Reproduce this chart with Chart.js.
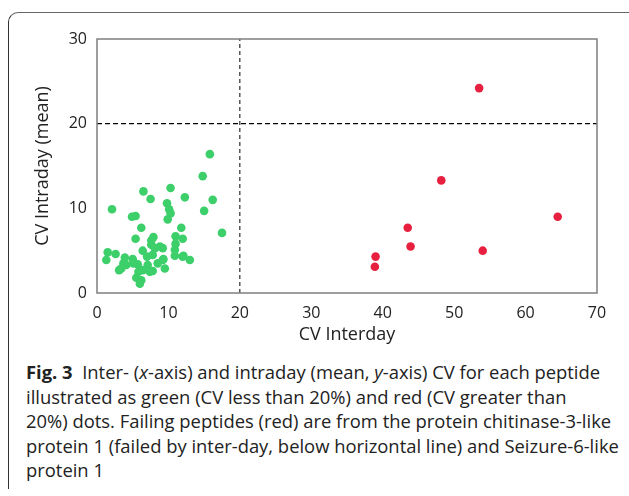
<!DOCTYPE html>
<html>
<head>
<meta charset="utf-8">
<script src="https://cdn.jsdelivr.net/npm/chart.js@4"></script>
<style>
  html, body { margin: 0; padding: 0; background: #fff; }
  body { width: 629px; height: 496px; position: relative; overflow: hidden; }
  #frame {
    position: absolute; left: 8px; top: 12px; width: 640px; height: 476px;
    border-left: 1.5px solid #333; border-top: 1.5px solid #666;
    border-top-left-radius: 10px;
  }
  #wrap { position: absolute; left: 0; top: 0; width: 629px; height: 350px; }
  #caption {
    position: absolute; left: 26px; top: 360px;
    font-family: "Open Sans", "Noto Sans", sans-serif; font-size: 18.4px;
    line-height: 24.6px; color: #222; white-space: nowrap;
  }
  #caption b { font-weight: 700; }
</style>
</head>
<body>
<div id="frame"></div>
<div id="wrap"><canvas id="myChart" width="629" height="350"></canvas></div>
<div id="caption">
<b>Fig. 3</b>&nbsp; Inter- (<i>x</i>-axis) and intraday (mean, <i>y</i>-axis) CV for each peptide<br>
illustrated as green (CV less than 20%) and red (CV greater than<br>
20%) dots. Failing peptides (red) are from the protein chitinase-3-like<br>
protein 1 (failed by inter-day, below horizontal line) and Seizure-6-like<br>
protein 1
</div>
<script>
// passing peptides (green)
const greenX = [15.8, 14.8, 16.2, 15.0, 17.5, 10.3, 6.5, 7.5, 12.3, 9.8, 10.1, 10.3, 9.9, 2.1, 4.9, 5.4, 6.2, 11.8, 5.4, 7.9,
    7.6, 11.0, 12.0, 11.0, 8.8, 7.6, 9.2, 8.1, 6.4, 10.9, 1.5, 2.6, 1.3, 3.9, 5.0, 7.0, 7.8, 9.2, 10.9, 12.0,
    13.0, 4.1, 5.7, 7.1, 8.5, 3.4, 3.1, 6.4, 7.8, 9.5, 7.4, 5.8, 5.1, 5.5, 6.2, 6.0, 3.7, 9.3, 12.1];
const greenY = [16.4, 13.8, 11.0, 9.7, 7.1, 12.4, 12.0, 11.1, 11.3, 10.6, 9.9, 9.4, 8.7, 9.9, 9.0, 9.1, 7.7, 7.7, 6.4, 6.6,
    6.2, 6.7, 6.4, 5.8, 5.5, 5.7, 5.3, 5.3, 5.0, 5.1, 4.8, 4.6, 3.9, 4.2, 4.0, 4.3, 4.5, 3.9, 4.4, 4.3,
    3.9, 3.3, 3.4, 3.3, 3.5, 2.9, 2.7, 2.7, 2.6, 2.9, 2.5, 2.5, 3.5, 1.8, 1.5, 1.1, 3.5, 4.0, 4.4];
// failing peptides (red)
const redX = [53.5, 48.2, 64.5, 43.5, 43.9, 54.0, 39.0, 38.9];
const redY = [24.2, 13.3, 9.0, 7.7, 5.5, 5.0, 4.3, 3.1];
// 20% limits
const cutoff = 20;
const xTicks = [0, 10, 20, 30, 40, 50, 60, 70];
const yTicks = [0, 10, 20, 30];

const toPoints = (xs, ys) => xs.map((x, i) => ({ x: x, y: ys[i] }));

// box around the plot area
const boxPlugin = {
    id: 'box',
    afterDatasetsDraw(chart) {
        const a = chart.chartArea;
        const ctx = chart.ctx;
        ctx.save();
        ctx.strokeStyle = '#7f7f7f';
        ctx.lineWidth = 1.5;
        ctx.strokeRect(a.left, a.top, a.right - a.left, a.bottom - a.top);
        ctx.restore();
    }
};

const family = '"Open Sans", "Noto Sans", sans-serif';
const font = { family: family, size: 16 };

const config = {
    type: 'scatter',
    data: {
        datasets: [
            {
                type: 'line',
                data: [{ x: cutoff, y: yTicks[0] }, { x: cutoff, y: yTicks[yTicks.length - 1] }],
                borderColor: '#000', borderWidth: 1, borderDash: [4, 3],
                pointRadius: 0, fill: false, order: 3
            },
            {
                type: 'line',
                data: [{ x: xTicks[0], y: cutoff }, { x: xTicks[xTicks.length - 1], y: cutoff }],
                borderColor: '#000', borderWidth: 1.2, borderDash: [5, 3],
                pointRadius: 0, fill: false, order: 3
            },
            {
                data: toPoints(greenX, greenY),
                backgroundColor: '#3ccf6a', borderWidth: 0, pointRadius: 4.3, order: 1
            },
            {
                data: toPoints(redX, redY),
                backgroundColor: '#e8203f', borderWidth: 0, pointRadius: 4.3, order: 1
            }
        ]
    },
    options: {
        responsive: false,
        animation: false,
        layout: { padding: { top: 39, right: 32, left: 32, bottom: 0 } },
        plugins: { legend: { display: false }, tooltip: { enabled: false } },
        scales: {
            x: {
                type: 'linear', min: 0, max: 70,
                afterBuildTicks: s => { s.ticks = xTicks.map(v => ({ value: v })); },
                afterFit: s => { s.height = 57; },
                grid: { display: false, drawTicks: false },
                border: { display: false },
                ticks: { font: font, color: '#222', padding: 11 },
                title: { display: true, text: 'CV Interday', font: { family: family, size: 18 }, color: '#222', padding: { top: 4 } }
            },
            y: {
                type: 'linear', min: 0, max: 30,
                afterBuildTicks: s => { s.ticks = yTicks.map(v => ({ value: v })); },
                afterFit: s => { s.width = 65; },
                grid: { display: false, drawTicks: false },
                border: { display: false },
                ticks: { font: font, color: '#222', padding: 10 },
                title: { display: true, text: 'CV Intraday (mean)', font: { family: family, size: 18 }, color: '#222', padding: 0 }
            }
        }
    },
    plugins: [boxPlugin]
};

var myChart = new Chart(document.getElementById('myChart'), config);
</script>
</body>
</html>
